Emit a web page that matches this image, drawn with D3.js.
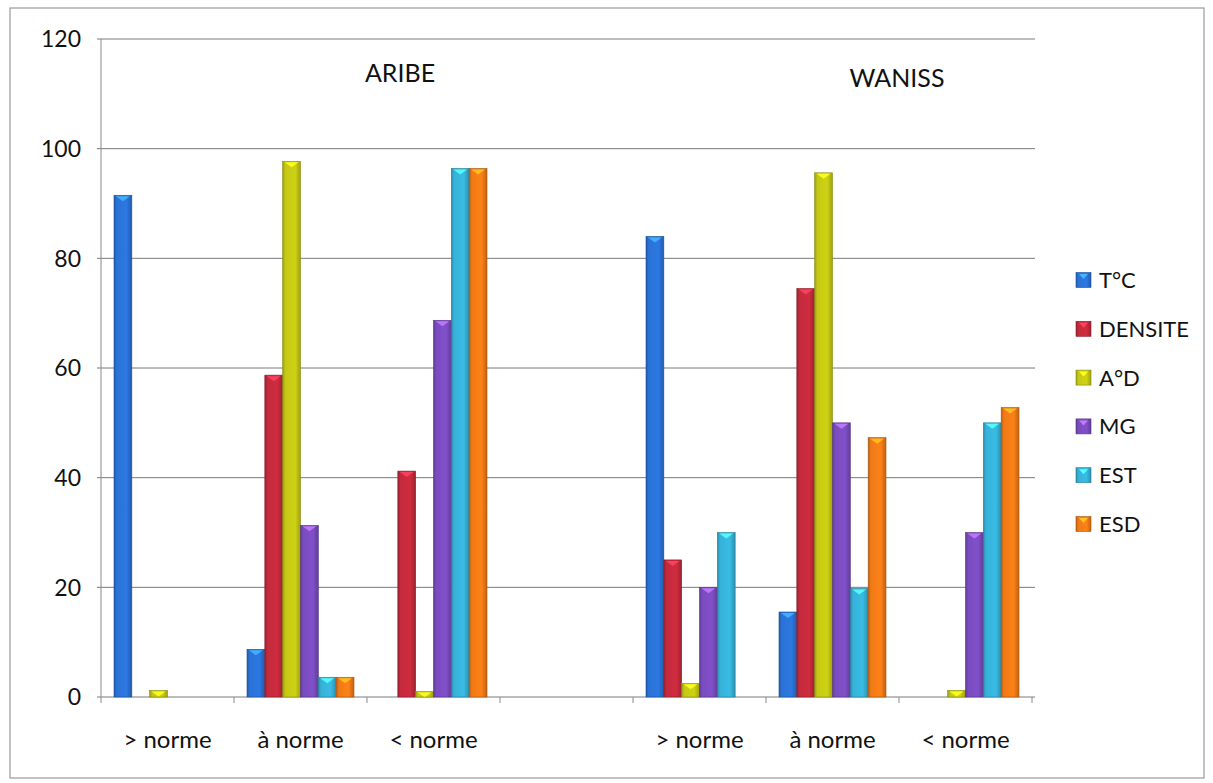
<!DOCTYPE html>
<html>
<head>
<meta charset="utf-8">
<script src="https://cdn.jsdelivr.net/npm/d3@7"></script>
<style>
  html, body { margin: 0; padding: 0; background: #fff; }
  svg { display: block; }
  text { font-family: Lato, "Open Sans", "Liberation Sans", sans-serif; fill: #111; }
</style>
</head>
<body>
<svg id="chart" width="1213" height="783"></svg>
<script>
// ---- data ----
const categories = ["> norme", "à norme", "< norme", "", "> norme", "à norme", "< norme"];
const groupTitles = ["ARIBE", "WANISS"];
const seriesNames = ["T°C", "DENSITE", "A°D", "MG", "EST", "ESD"];
const tC      = [91.5, 8.7, 0, 0, 84, 15.5, 0];
const densite = [0, 58.7, 41.2, 0, 25, 74.5, 0];
const aD      = [1.2, 97.7, 1, 0, 2.5, 95.6, 1.2];
const mg      = [0, 31.3, 68.7, 0, 20, 50, 30];
const est     = [0, 3.6, 96.4, 0, 30, 19.8, 50];
const esd     = [0, 3.6, 96.4, 0, 0, 47.3, 52.8];
const seriesValues = [tC, densite, aD, mg, est, esd];
const yTicks = [0, 20, 40, 60, 80, 100, 120];
const colors = ["#2a72d6", "#c42a3c", "#c4c814", "#7a4cbf", "#36b2d8", "#f07a16"];

// ---- layout ----
const svg = d3.select("#chart");
const pLeft = 101, pRight = 1032, pTop = 39, pBottom = 697;

// outer frame
svg.append("rect").attr("x", 10).attr("y", 8).attr("width", 1194).attr("height", 770)
  .attr("fill", "none").attr("stroke", "#9a9a9a").attr("stroke-width", 1.2);

const x0 = d3.scaleBand().domain(d3.range(categories.length)).range([pLeft, pRight]).padding(0);
const x1 = d3.scaleBand().domain(d3.range(seriesNames.length))
  .range([13, x0.bandwidth() - 13]).padding(0);
const y = d3.scaleLinear().domain([0, 120]).range([pBottom, pTop]);

// gradients
const defs = svg.append("defs");
colors.forEach((c, i) => {
  const g = defs.append("linearGradient").attr("id", "g" + i)
    .attr("x1", "0%").attr("x2", "100%").attr("y1", "0%").attr("y2", "0%");
  const base = d3.color(c);
  g.append("stop").attr("offset", "0%").attr("stop-color", base.darker(0.7));
  g.append("stop").attr("offset", "15%").attr("stop-color", base);
  g.append("stop").attr("offset", "70%").attr("stop-color", base.brighter(0.15));
  g.append("stop").attr("offset", "100%").attr("stop-color", base.darker(0.6));
});

// gridlines
svg.append("g").selectAll("line").data(yTicks).join("line")
  .attr("x1", pLeft - 4).attr("x2", pRight + 3)
  .attr("y1", d => y(d)).attr("y2", d => y(d))
  .attr("stroke", "#7a7a7a").attr("stroke-width", 1);

// y axis line
svg.append("line").attr("x1", pLeft).attr("x2", pLeft).attr("y1", pTop).attr("y2", pBottom)
  .attr("stroke", "#8a8a8a");

// y tick labels
svg.append("g").selectAll("text").data(yTicks).join("text")
  .attr("x", 81).attr("y", d => y(d)).attr("dy", "0.36em")
  .attr("text-anchor", "end").attr("font-size", 23).text(d => d);

// x axis ticks
const tickXs = d3.range(categories.length + 1).map(i => i < categories.length ? x0(i) : x0(categories.length - 1) + x0.bandwidth());
svg.append("g").selectAll("line").data(tickXs).join("line")
  .attr("x1", d => d).attr("x2", d => d).attr("y1", pBottom).attr("y2", pBottom + 6)
  .attr("stroke", "#8a8a8a");

// category labels
svg.append("g").selectAll("text").data(categories).join("text")
  .attr("x", (d, i) => x0(i) + x0.bandwidth() / 2).attr("y", 748)
  .attr("text-anchor", "middle").attr("font-size", 24).text(d => d);

// group titles
svg.append("text").attr("x", 400).attr("y", 82).attr("text-anchor", "middle")
  .attr("font-size", 25).text(groupTitles[0]);
svg.append("text").attr("x", 897).attr("y", 87).attr("text-anchor", "middle")
  .attr("font-size", 25).text(groupTitles[1]);

// bars
const bars = [];
seriesValues.forEach((vals, s) => vals.forEach((v, c) => { if (v > 0) bars.push({ s, c, v }); }));
const bw = x1.bandwidth();
const bg = svg.append("g");
const barG = bg.selectAll("g").data(bars).join("g");
barG.append("rect")
  .attr("x", d => x0(d.c) + x1(d.s)).attr("y", d => y(d.v))
  .attr("width", bw).attr("height", d => y(0) - y(d.v))
  .attr("fill", d => `url(#g${d.s})`)
  .attr("stroke", d => d3.color(colors[d.s]).darker(1)).attr("stroke-width", 0.6);
// top chevron highlight
barG.append("path")
  .attr("d", d => {
    const bx = x0(d.c) + x1(d.s), by = y(d.v);
    const h = Math.min(6, y(0) - y(d.v));
    return `M${bx + 2},${by + 1}L${bx + bw - 2},${by + 1}L${bx + bw / 2},${by + h}Z`;
  })
  .attr("fill", d => d3.color(colors[d.s]).brighter(1.3)).attr("opacity", 0.9);

// legend
const legend = svg.append("g");
const ly = d3.scalePoint().domain(seriesNames).range([280, 524]);
const li = legend.selectAll("g").data(seriesNames).join("g")
  .attr("transform", d => `translate(0,${ly(d)})`);
li.append("rect").attr("x", 1076).attr("y", -7.5).attr("width", 15).attr("height", 15)
  .attr("fill", (d, i) => `url(#g${i})`)
  .attr("stroke", (d, i) => d3.color(colors[i]).darker(1)).attr("stroke-width", 0.6);
li.append("path").attr("d", "M1079,-6L1088,-6L1083.5,-1Z")
  .attr("fill", (d, i) => d3.color(colors[i]).brighter(1.3));
li.append("text").attr("x", 1099).attr("y", 0).attr("dy", "0.36em")
  .attr("font-size", 22).text(d => d);
</script>
</body>
</html>
